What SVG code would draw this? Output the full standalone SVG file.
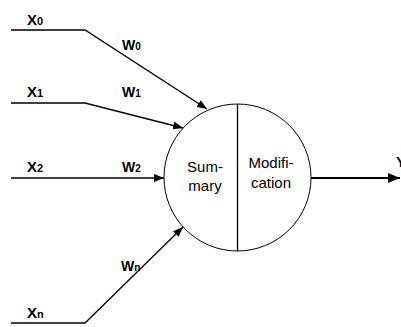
<svg xmlns="http://www.w3.org/2000/svg" width="401" height="327" viewBox="0 0 401 327">
<style>
.lbl{font-family:"Liberation Sans",Arial,sans-serif;font-weight:bold;fill:#000}
.x{font-size:15px}
.xs{font-size:11px}
.w{font-size:14px}
.ws{font-size:10px}
.in{font-family:"Liberation Sans",Arial,sans-serif;font-size:15px;fill:#000;text-anchor:middle}
.ln{fill:none;stroke:#000;stroke-width:1.3}
</style>
<defs>
<marker id="ah" markerWidth="10" markerHeight="8" refX="10" refY="4" orient="auto" markerUnits="userSpaceOnUse">
<path d="M0,0 L10,4 L0,8 Z" fill="#000"/>
</marker>
<marker id="ah2" markerWidth="12" markerHeight="10" refX="12" refY="5" orient="auto" markerUnits="userSpaceOnUse">
<path d="M0,0 L12,5 L0,10 Z" fill="#000"/>
</marker>
</defs>
<rect width="401" height="327" fill="#fff"/>
<g id="connectors">
<polyline class="ln" points="11,30 85,30 207,109" marker-end="url(#ah)"/>
<polyline class="ln" points="11,103 85,103 183,128" marker-end="url(#ah)"/>
<polyline class="ln" points="11,178 164,178" marker-end="url(#ah)"/>
<polyline class="ln" points="11,323 85,323 183,227" marker-end="url(#ah)"/>
<line x1="311" y1="178" x2="400" y2="178" stroke="#000" stroke-width="2" marker-end="url(#ah2)"/>
</g>
<g id="neuron">
<circle cx="237.5" cy="177.5" r="73.5" fill="none" stroke="#000" stroke-width="1"/>
<line x1="237.5" y1="104" x2="237.5" y2="251" stroke="#000" stroke-width="1.3"/>
<text class="in" x="205" y="172">Sum-</text>
<text class="in" x="205" y="191">mary</text>
<text class="in" x="271" y="168">Modifi-</text>
<text class="in" x="271" y="188">cation</text>
</g>
<g id="labels">
<text class="lbl x" x="27" y="25">X<tspan class="xs">0</tspan></text>
<text class="lbl w" x="122" y="50">W<tspan class="ws">0</tspan></text>
<text class="lbl x" x="27" y="97">X<tspan class="xs">1</tspan></text>
<text class="lbl w" x="122" y="97">W<tspan class="ws">1</tspan></text>
<text class="lbl x" x="27" y="172">X<tspan class="xs">2</tspan></text>
<text class="lbl w" x="122" y="172">W<tspan class="ws">2</tspan></text>
<text class="lbl w" x="121" y="271">W<tspan class="ws">n</tspan></text>
<text class="lbl x" x="27" y="318">X<tspan class="xs">n</tspan></text>
<text class="lbl x" x="396" y="167">Y</text>
</g>
</svg>
